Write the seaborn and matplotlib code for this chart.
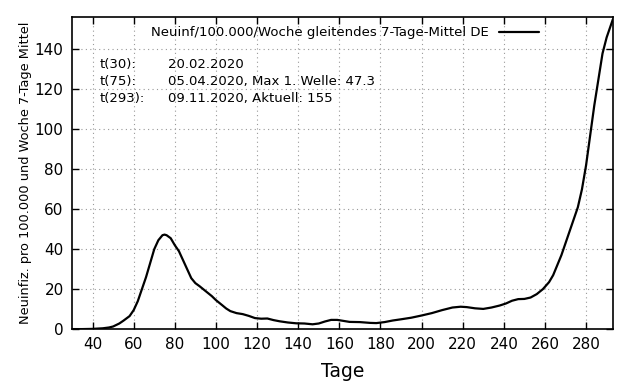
import matplotlib
matplotlib.use("Agg")
import matplotlib.pyplot as plt
import seaborn as sns

# Tage seit Jahresbeginn und Neuinfektionen pro 100.000/Woche (7-Tage-Mittel)
days = [30, 35, 40, 45, 48, 50, 53, 55, 58, 60, 62, 64, 66, 68, 70, 72, 74, 75,
        76, 78, 80, 82, 84, 86, 88, 90, 92, 95, 98, 100, 103, 105, 107, 110, 113,
        116, 119, 122, 125, 128, 131, 135, 139, 143, 147, 150, 153, 156, 159, 162,
        165, 170, 175, 178, 182, 186, 190, 195, 200, 205, 210, 215, 219, 222, 226,
        230, 234, 238, 241, 244, 247, 250, 253, 256, 259, 262, 264, 266, 268, 270,
        272, 274, 276, 278, 280, 282, 284, 286, 288, 290, 293]
values = [0.0, 0.0, 0.1, 0.4, 0.8, 1.3, 2.8, 4.2, 6.5, 9.5, 14, 20, 26, 33, 40, 44.5,
          47, 47.3, 47.0, 45.5, 42, 39, 34.5, 30, 25.5, 23, 21.5, 19, 16.5, 14.5, 12,
          10.3, 9, 8, 7.5, 6.6, 5.5, 5.2, 5.3, 4.5, 3.9, 3.3, 2.9, 2.8, 2.4, 2.8, 3.8,
          4.6, 4.6, 4.1, 3.6, 3.5, 3.1, 3.0, 3.5, 4.3, 4.9, 5.7, 6.8, 8.0, 9.5, 10.8,
          11.2, 11.0, 10.4, 10.1, 10.8, 11.8, 12.8, 14.2, 15.0, 15.1, 15.8, 17.5, 20.0,
          23.5, 27, 32, 37, 43, 49, 55, 61, 70, 82, 97, 112, 125, 138, 146, 155]

info_keys = ["t(30):", "t(75):", "t(293):"]
info_vals = ["20.02.2020", "05.04.2020, Max 1. Welle: 47.3", "09.11.2020, Aktuell: 155"]

sns.set_style("ticks")
plt.rcParams["font.family"] = ["DejaVu Sans"]
plt.rcParams["text.color"] = "black"
plt.rcParams["axes.labelcolor"] = "black"

fig = plt.figure(figsize=(6.4, 3.84), dpi=100)
ax = fig.add_axes([0.1125, 0.143, 0.845, 0.813])

sns.lineplot(x=days, y=values, ax=ax, color="black", linewidth=1.6,
             label="Neuinf/100.000/Woche gleitendes 7-Tage-Mittel DE")

ax.set_xlim(30, 293)
ax.set_ylim(0, 156.3)
ax.set_xticks(range(40, 281, 20))
ax.set_yticks(range(0, 141, 20))
ax.tick_params(direction="in", length=5, width=1, top=True, right=True,
               labelsize=11, colors="black", pad=6)
ax.grid(True, linestyle=(0, (1, 3)), color="#999999", linewidth=0.8)
for s in ax.spines.values():
    s.set_linewidth(1.2)
    s.set_color("black")

ax.set_xlabel("Tage", fontsize=13.5, labelpad=7)
ax.set_ylabel("Neuinfiz. pro 100.000 und Woche 7-Tage Mittel", fontsize=9.3, labelpad=2)

leg = ax.legend(loc="upper center", bbox_to_anchor=(0.505, 1.0), frameon=False,
                markerfirst=False, fontsize=9.5, handlelength=3.0, borderaxespad=0.3)

for i, (k, v) in enumerate(zip(info_keys, info_vals)):
    y = 0.846 - i * 0.053
    ax.text(0.052, y, k, transform=ax.transAxes, fontsize=9.5, va="center")
    ax.text(0.177, y, v, transform=ax.transAxes, fontsize=9.5, va="center")

fig.savefig("out.png", dpi=100)
